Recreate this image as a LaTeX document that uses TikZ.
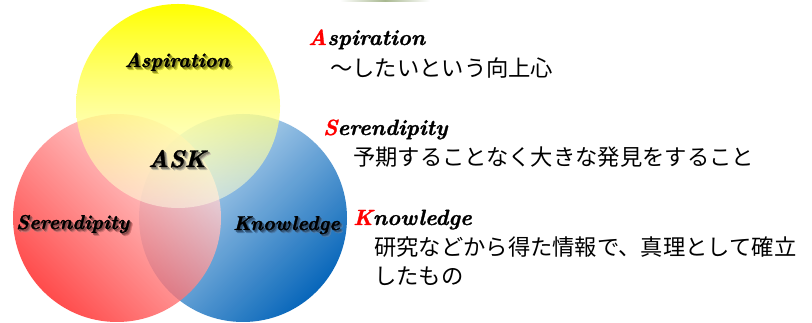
\documentclass[tikz,border=0pt]{standalone}
\usepackage{fontspec}
\newfontfamily\jp{Noto Sans CJK JP}
\newfontfamily\heavyit{lmroman10-bolditalic.otf}[FakeBold=1.2]
\usetikzlibrary{fadings}
\definecolor{cyel}{HTML}{FFFF00}
\definecolor{cyelb}{HTML}{FFFFE6}
\definecolor{credd}{HTML}{FF1A1A}
\definecolor{credl}{HTML}{FFE4E4}
\definecolor{cblued}{HTML}{0062B8}
\definecolor{cbluel}{HTML}{D6E8F6}
\definecolor{cbar}{HTML}{A8B890}
\definecolor{shY}{HTML}{FFFF40}
\definecolor{shC}{HTML}{F4EDD0}
\definecolor{shR}{HTML}{FF8A8A}
\definecolor{shB}{HTML}{5A96D2}
\newcommand{\softshadow}[2]{%
  \makebox[0pt][l]{\hspace{3pt}\raisebox{-3pt}{\textcolor{#1!85!black}{#2}}}%
  \makebox[0pt][l]{\hspace{2.2pt}\raisebox{-2.2pt}{\textcolor{#1!68!black}{#2}}}%
  \makebox[0pt][l]{\hspace{1.4pt}\raisebox{-1.4pt}{\textcolor{#1!52!black}{#2}}}%
  #2}
\tikzfading[name=fadeTop, top color=transparent!0, middle color=transparent!15, bottom color=transparent!50]
\tikzset{
  lab/.style={inner sep=0pt, anchor=base, font=\heavyit\fontsize{20}{24}\selectfont},
  head/.style={inner sep=0pt, anchor=base west, font=\heavyit\fontsize{22}{26}\selectfont},
  jtext/.style={inner sep=0pt, anchor=west, font=\jp\fontsize{22.3}{26}\selectfont},
}
\begin{document}
\begin{tikzpicture}[x=1pt,y=-1pt]
\useasboundingbox (0,0) rectangle (812,323);
\fill[white] (0,0) rectangle (812,323);
\shade[left color=white, right color=white, middle color=cbar] (340,0) rectangle (430,1.5);
\begin{scope}
\clip (0,0) rectangle (812,323);
\shade[top color=cbluel, bottom color=cblued, shading angle=45, opacity=0.97] (243,218) circle[radius=104];
\shade[top color=credl, bottom color=credd, shading angle=-45, opacity=0.78] (117,218) circle[radius=104];
\shade[top color=cyel, middle color=cyel!75!white, bottom color=cyelb, path fading=fadeTop, fit fading=true] (178,106) circle[radius=102];
\end{scope}
% circle labels
\node[lab] (a) at (177,67) {\softshadow{shY}{Aspiration}};
\node[lab, font=\heavyit\fontsize{24}{28}\selectfont] (ask) at (177,167) {\softshadow{shC}{ASK}};
\node[lab] (s) at (72.5,229) {\softshadow{shR}{Serendipity}};
\node[lab] (k) at (286.5,230) {\softshadow{shB}{Knowledge}};
% right side
\node[head] (ha) at (308,45) {\textcolor{red}{A}spiration};
\node[jtext] (ja) at (330,68) {～したいという向上心};
\node[head] (hs) at (323,135) {\textcolor{red}{S}erendipity};
\node[jtext] (js) at (353,157) {予期することなく大きな発見をすること};
\node[head] (hk) at (353,225) {\textcolor{red}{K}nowledge};
\node[jtext] (jk) at (374,247) {研究などから得た情報で、真理として確立};
\node[jtext] (jk2) at (374,276) {したもの};
\end{tikzpicture}
\end{document}
